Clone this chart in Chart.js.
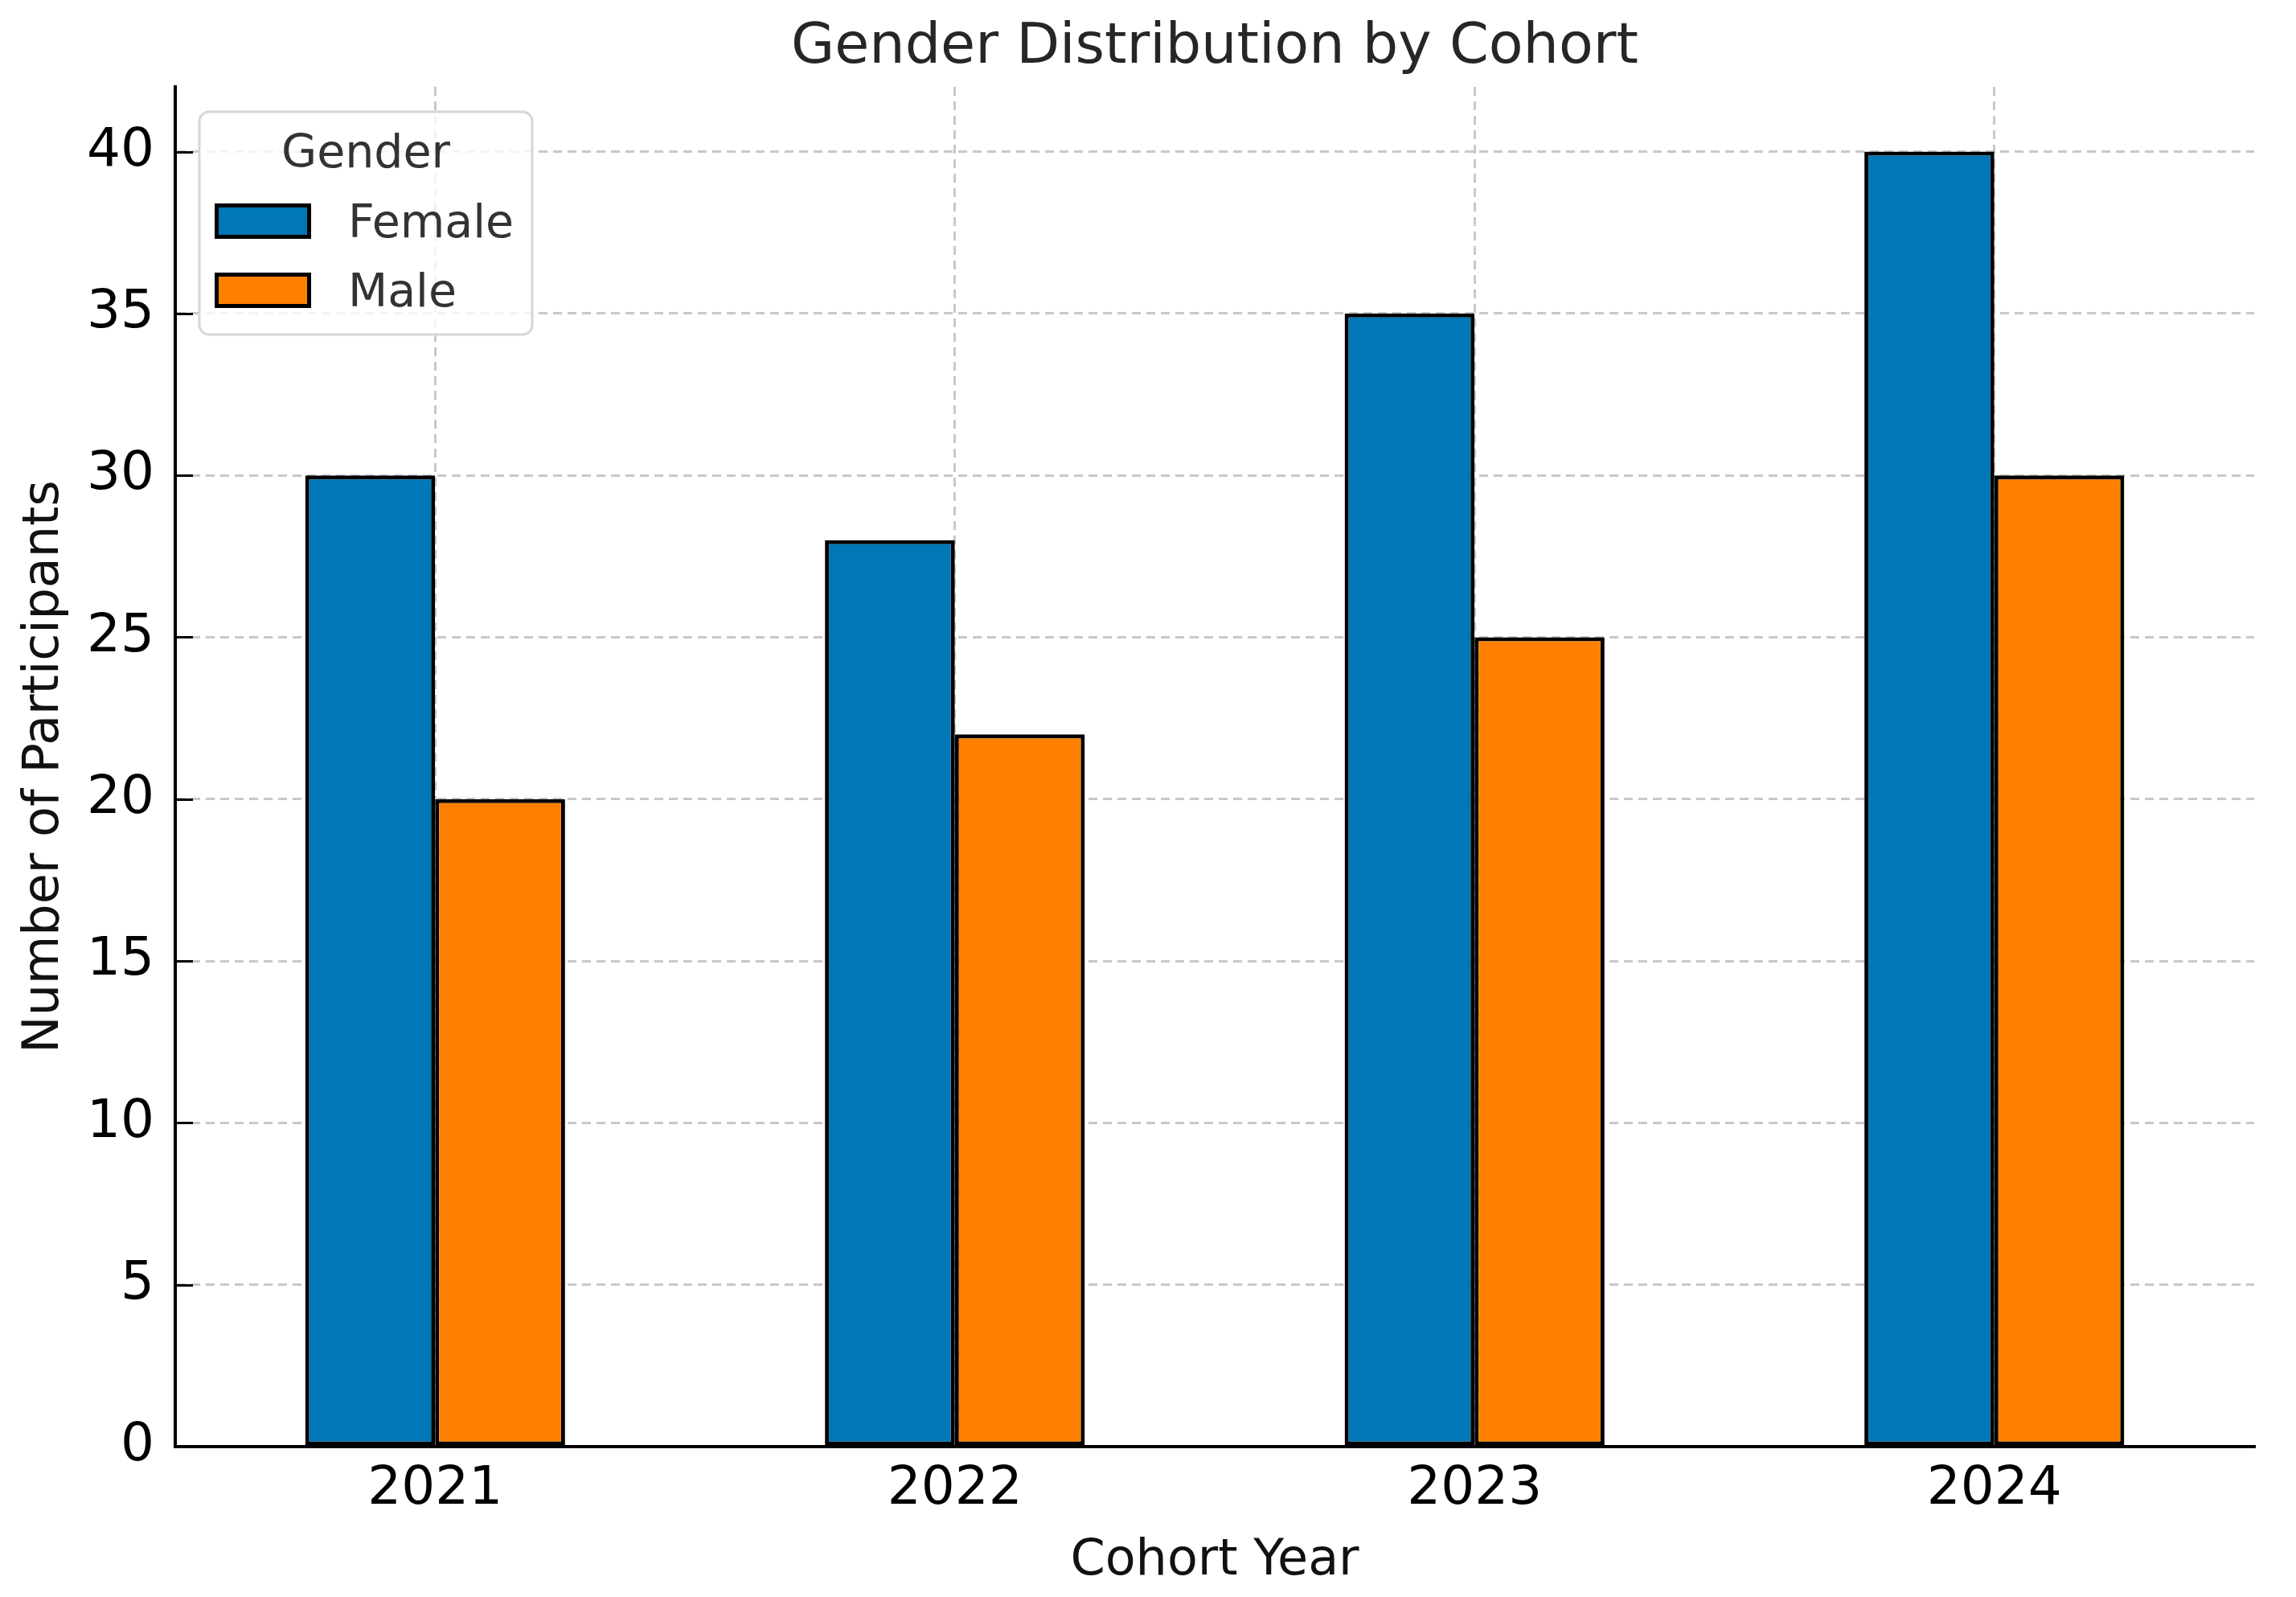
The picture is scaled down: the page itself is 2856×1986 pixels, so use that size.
<!DOCTYPE html>
<html>
<head>
<meta charset="utf-8">
<title>Gender Distribution by Cohort</title>
<script src="https://cdn.jsdelivr.net/npm/chart.js@4"></script>
<style>
    html, body { margin: 0; padding: 0; background: #fff; }
    canvas { display: block; }
</style>
</head>
<body>
<canvas id="genderChart" width="2856" height="1986"></canvas>
<script>
// Data
const cohortYears = ['2021', '2022', '2023', '2024'];
const femaleCounts = [30, 28, 35, 40];
const maleCounts = [20, 22, 25, 30];
const yTickValues = [0, 5, 10, 15, 20, 25, 30, 35, 40];

const chartTitle = 'Gender Distribution by Cohort';
const xAxisTitle = 'Cohort Year';
const yAxisTitle = 'Number of Participants';
const legendTitle = 'Gender';

document.addEventListener('DOMContentLoaded', function () {
    const FONT = '"DejaVu Sans", Verdana, sans-serif';

    // Texts, legend and inward y ticks drawn on top of the chart
    const decorations = {
        id: 'decorations',
        afterDraw(chart) {
            const ctx = chart.ctx;
            const area = chart.chartArea;
            const yScale = chart.scales.y;

            ctx.save();

            // inward tick marks on the y axis
            ctx.strokeStyle = '#000';
            ctx.lineWidth = 3;
            yScale.ticks.forEach(t => {
                const py = Math.round(yScale.getPixelForValue(t.value)) + 0.5;
                ctx.beginPath();
                ctx.moveTo(area.left, py);
                ctx.lineTo(area.left + 22, py);
                ctx.stroke();
            });

            // title
            ctx.fillStyle = '#262626';
            ctx.font = '70px ' + FONT;
            ctx.textAlign = 'center';
            ctx.textBaseline = 'alphabetic';
            ctx.fillText(chartTitle, (area.left + area.right) / 2, 78);

            // x axis title
            ctx.fillStyle = '#111';
            ctx.font = '62px ' + FONT;
            ctx.fillText(xAxisTitle, (area.left + area.right) / 2, 1958);

            // y axis title
            ctx.save();
            ctx.translate(72, (area.top + area.bottom) / 2);
            ctx.rotate(-Math.PI / 2);
            ctx.fillText(yAxisTitle, 0, 0);
            ctx.restore();

            // legend box
            const bx = 248, by = 139, bw = 414, bh = 277, r = 12;
            ctx.beginPath();
            ctx.moveTo(bx + r, by);
            ctx.arcTo(bx + bw, by, bx + bw, by + bh, r);
            ctx.arcTo(bx + bw, by + bh, bx, by + bh, r);
            ctx.arcTo(bx, by + bh, bx, by, r);
            ctx.arcTo(bx, by, bx + bw, by, r);
            ctx.closePath();
            ctx.fillStyle = 'rgba(255,255,255,0.8)';
            ctx.fill();
            ctx.strokeStyle = '#d6d6d6';
            ctx.lineWidth = 3;
            ctx.stroke();

            ctx.fillStyle = '#333';
            ctx.font = '57px ' + FONT;
            ctx.textAlign = 'center';
            ctx.fillText(legendTitle, bx + bw / 2, 208);

            ctx.textAlign = 'left';
            chart.data.datasets.forEach((ds, i) => {
                const sy = 253 + i * 86;
                ctx.fillStyle = ds.backgroundColor;
                ctx.fillRect(267, sy, 120, 44);
                ctx.strokeStyle = '#000';
                ctx.lineWidth = 5;
                ctx.strokeRect(269.5, sy + 2.5, 115, 39);
                ctx.fillStyle = '#333';
                ctx.fillText(ds.label, 433, sy + 42);
            });

            ctx.restore();
        }
    };

    const ctx = document.getElementById('genderChart').getContext('2d');
    new Chart(ctx, {
        type: 'bar',
        data: {
            labels: cohortYears,
            datasets: [
                {
                    label: 'Female',
                    data: femaleCounts,
                    backgroundColor: '#0077B6',
                    borderColor: '#000',
                    borderWidth: 5,
                    borderSkipped: false,
                    categoryPercentage: 0.5,
                    barPercentage: 1.0
                },
                {
                    label: 'Male',
                    data: maleCounts,
                    backgroundColor: '#FF8000',
                    borderColor: '#000',
                    borderWidth: 5,
                    borderSkipped: false,
                    categoryPercentage: 0.5,
                    barPercentage: 1.0
                }
            ]
        },
        options: {
            responsive: false,
            devicePixelRatio: 1,
            animation: false,
            layout: {
                padding: { top: 108, right: 52, bottom: 0, left: 0 }
            },
            plugins: {
                legend: { display: false },
                title: { display: false },
                tooltip: { enabled: false }
            },
            scales: {
                x: {
                    z: 1,
                    offset: true,
                    afterFit: scale => { scale.height = 187; },
                    grid: {
                        offset: false,
                        drawTicks: false,
                        color: 'rgba(176,176,176,0.7)',
                        lineWidth: 3
                    },
                    border: { display: true, color: '#000', width: 4, dash: [11, 7] },
                    ticks: {
                        color: '#000',
                        padding: 14,
                        font: { family: FONT, size: 66 }
                    }
                },
                y: {
                    z: 1,
                    min: 0,
                    max: 42,
                    afterFit: scale => { scale.width = 218; },
                    afterBuildTicks: scale => {
                        scale.ticks = yTickValues.map(v => ({ value: v }));
                    },
                    grid: {
                        drawTicks: false,
                        color: 'rgba(176,176,176,0.7)',
                        lineWidth: 3
                    },
                    border: { display: true, color: '#000', width: 4, dash: [11, 7] },
                    ticks: {
                        color: '#000',
                        padding: 26,
                        font: { family: FONT, size: 66 }
                    }
                }
            }
        },
        plugins: [decorations]
    });
});
</script>
</body>
</html>
